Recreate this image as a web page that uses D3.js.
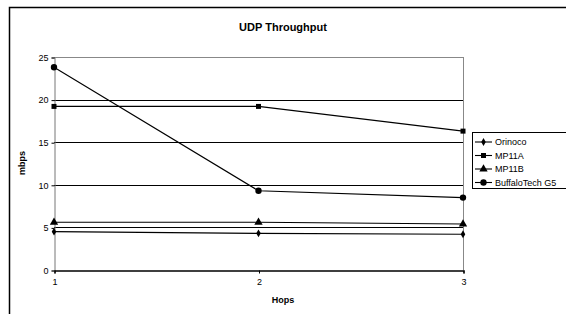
<!DOCTYPE html>
<html><head><meta charset="utf-8">
<script src="https://cdn.jsdelivr.net/npm/d3@7"></script>
<style>body{margin:0;background:#fff}svg{display:block;font-family:"Liberation Sans",Arial,sans-serif}</style>
</head><body>
<svg id="c" width="566" height="314"></svg>
<script>
const hops = [1, 2, 3];
const seriesNames = ["Orinoco", "MP11A", "MP11B", "BuffaloTech G5"];
const orinoco = [4.5, 4.3, 4.2];
const mp11a = [19.2, 19.2, 16.3];
const mp11b = [5.6, 5.6, 5.4];
const buffalo = [23.8, 9.3, 8.5];
const yTicks = [0, 5, 10, 15, 20, 25];
const markers = ["diamond", "square", "triangle", "circle"];
const allSeries = [orinoco, mp11a, mp11b, buffalo];

const svg = d3.select("#c");
// outer frame
svg.append("path").attr("d", "M9.5,314 V7.5 H566").attr("fill","none").attr("stroke","#000").attr("stroke-width",1.5);

const x = d3.scaleLinear().domain([1,3]).range([54,463]);
const y = d3.scaleLinear().domain([0,25]).range([270,57]);

// grid
svg.append("g").selectAll("line").data(yTicks.filter(d=>d>0)).join("line")
  .attr("x1",x(1)).attr("x2",x(3)).attr("y1",d=>Math.round(y(d))+0.5).attr("y2",d=>Math.round(y(d))+0.5)
  .attr("stroke",d=>d===25?"#888":"#000").attr("stroke-width",1);
// right border of plot
svg.append("line").attr("x1",x(3)+0.5).attr("x2",x(3)+0.5).attr("y1",y(25)).attr("y2",y(0)).attr("stroke","#888");

// axes
const yAxis = d3.axisLeft(y).tickValues(yTicks).tickSize(3).tickPadding(3);
const gy = svg.append("g").attr("transform",`translate(${x(1)+0.5},0.5)`).call(yAxis);
gy.select(".domain").attr("stroke","#777");
gy.selectAll("text").attr("font-size",9).attr("fill","#000");
const xAxis = d3.axisBottom(x).tickValues(hops).tickFormat(d3.format("d")).tickSize(3).tickPadding(5);
const gx = svg.append("g").attr("transform",`translate(0.5,${Math.round(y(0))+0.5})`).call(xAxis);
gx.select(".domain").attr("stroke","#000").attr("stroke-width",1.3);
gx.selectAll("text").attr("font-size",9).attr("fill","#000");
svg.selectAll(".tick line").attr("stroke","#000");

const symType = {diamond:d3.symbolDiamond, square:d3.symbolSquare, triangle:d3.symbolTriangle, circle:d3.symbolCircle};
const symSize = {diamond:18, square:25, triangle:30, circle:32};
const line = d3.line().x((d,i)=>x(hops[i])).y(d=>y(d));

allSeries.forEach((vals,si)=>{
  svg.append("path").attr("d",line(vals)).attr("fill","none").attr("stroke","#000").attr("stroke-width",1.1);
  svg.append("g").selectAll("path").data(vals).join("path")
    .attr("transform",(d,i)=>`translate(${x(hops[i])},${y(d)})`)
    .attr("d",d3.symbol().type(symType[markers[si]]).size(symSize[markers[si]]));
});

// titles
svg.append("text").attr("x",283).attr("y",31).attr("text-anchor","middle").attr("font-size",11).attr("font-weight","bold").text("UDP Throughput");
svg.append("text").attr("x",283).attr("y",303).attr("text-anchor","middle").attr("font-size",9).attr("font-weight","bold").text("Hops");
svg.append("text").attr("transform","translate(25,163) rotate(-90)").attr("text-anchor","middle").attr("font-size",9).attr("font-weight","bold").text("mbps");

// legend
const lg = svg.append("g");
lg.append("rect").attr("x",472.5).attr("y",132.5).attr("width",100).attr("height",56).attr("fill","#fff").attr("stroke","#000");
seriesNames.forEach((n,i)=>{
  const ly = 142 + i*13.5;
  lg.append("line").attr("x1",475).attr("x2",492).attr("y1",ly).attr("y2",ly).attr("stroke","#000").attr("stroke-width",1.1);
  lg.append("path").attr("transform",`translate(483.5,${ly})`).attr("d",d3.symbol().type(symType[markers[i]]).size(symSize[markers[i]]));
  lg.append("text").attr("x",495).attr("y",ly+3.2).attr("font-size",9).text(n);
});
</script>
</body></html>
